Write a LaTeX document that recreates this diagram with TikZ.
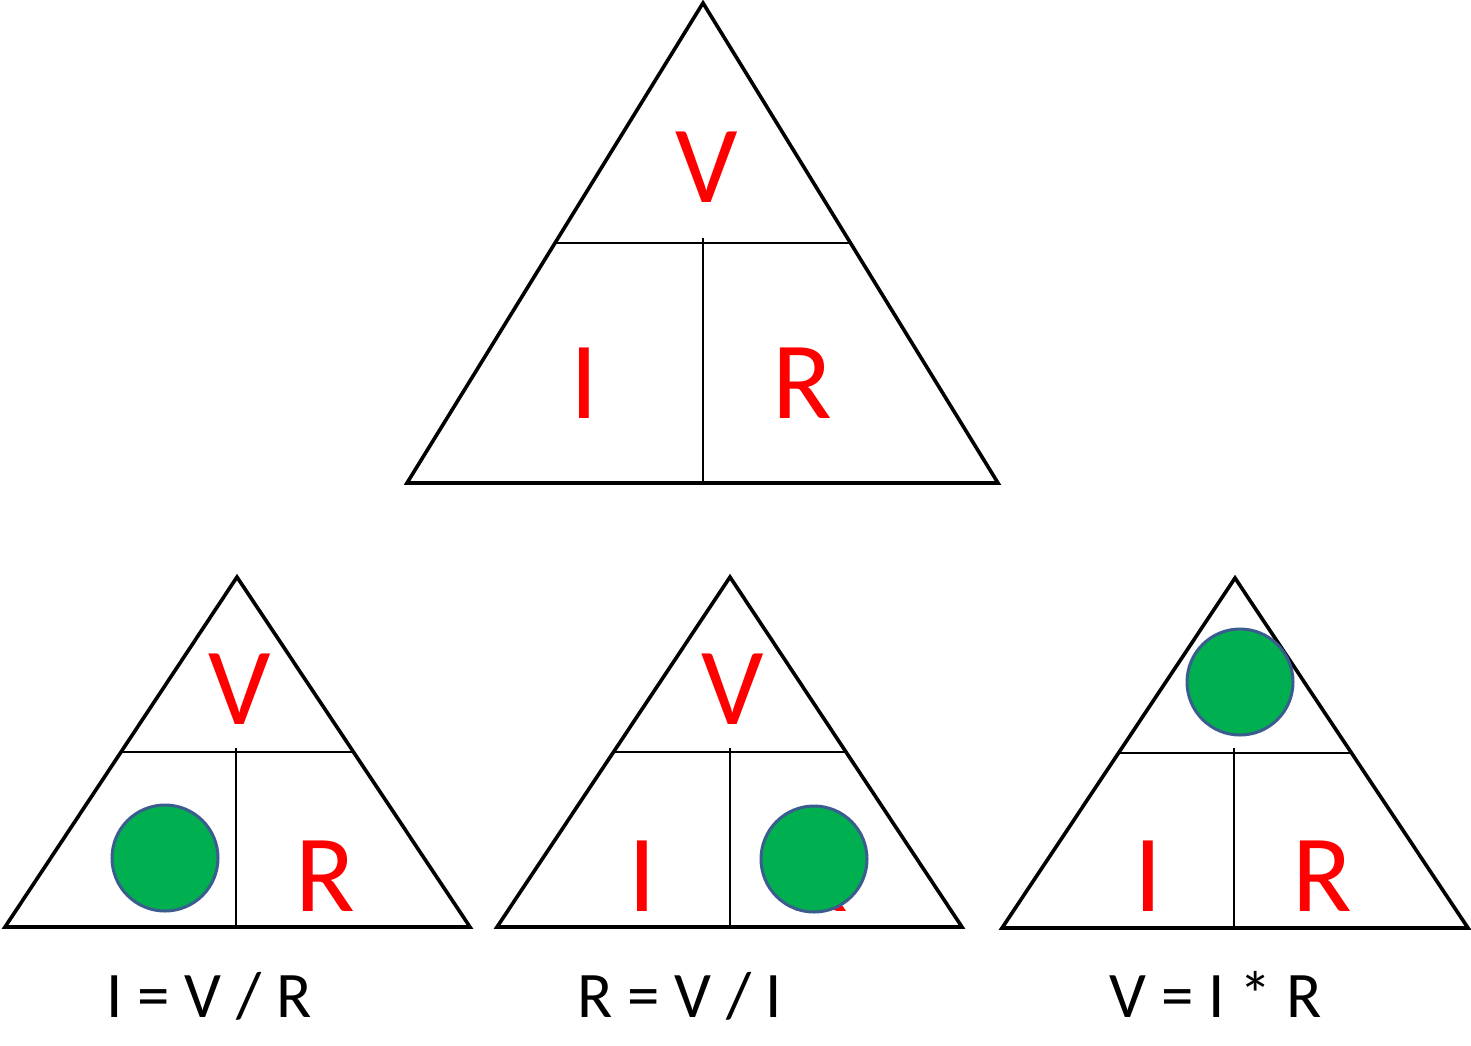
\documentclass[tikz,border=0pt]{standalone}
\usepackage{fontspec}
\setmainfont{Carlito}
\definecolor{dotgreen}{HTML}{00B050}
\definecolor{dotedge}{HTML}{3B5C8E}
\begin{document}
\begin{tikzpicture}[x=1pt,y=-1pt,
  tri/.style={line width=3.6pt,line join=miter},
  divider/.style={line width=2.4pt},
  letter/.style={text=red,font=\fontsize{110}{110}\selectfont,anchor=base,inner sep=0pt},
  formula/.style={text=black,font=\fontsize{65}{65}\selectfont,anchor=base,inner sep=0pt},
  dot/.style={circle,fill=dotgreen,draw=dotedge,line width=3pt,minimum size=106pt,inner sep=0pt}]
\useasboundingbox (0,0) rectangle (1471,1045);
% top triangle
\draw[tri] (703,3) -- (998,483) -- (407,483) -- cycle;
\draw[divider] (555,243) -- (850,243);
\draw[divider] (703,238) -- (703,483);
\node[letter] (tV) at (707,202) {V};
\node[letter] (tI) at (584,418) {I};
\node[letter] (tR) at (802,418) {R};
% bottom left triangle
\draw[tri] (237,577) -- (470,927) -- (5,927) -- cycle;
\draw[divider] (121,752) -- (352,752);
\draw[divider] (236,748) -- (236,927);
\node[letter] (aV) at (240,724) {V};
\node[letter] (aR) at (325,911) {R};
\node[dot] (aD) at (165,858) {};
\node[formula] (aF) at (209,1017) {I = V / R};
% bottom middle triangle
\draw[tri] (730,577) -- (962,927) -- (497,927) -- cycle;
\draw[divider] (613,752) -- (845,752);
\draw[divider] (730,748) -- (730,927);
\node[letter] (bV) at (733,724) {V};
\node[letter] (bI) at (642,911) {I};
\node[letter] (bR) at (818,911) {R};
\node[dot] (bD) at (814,859) {};
\node[formula] (bF) at (680,1017) {R = V / I};
% bottom right triangle
\draw[tri] (1235,578) -- (1468,928) -- (1002,928) -- cycle;
\draw[divider] (1119,753) -- (1350,753);
\draw[divider] (1234,748) -- (1234,928);
\node[letter] (cI) at (1148,911) {I};
\node[letter] (cR) at (1322,911) {R};
\node[dot] (cD) at (1240,682) {};
\node[formula] (cF) at (1216,1017) {V = I * R};
\end{tikzpicture}
\end{document}
